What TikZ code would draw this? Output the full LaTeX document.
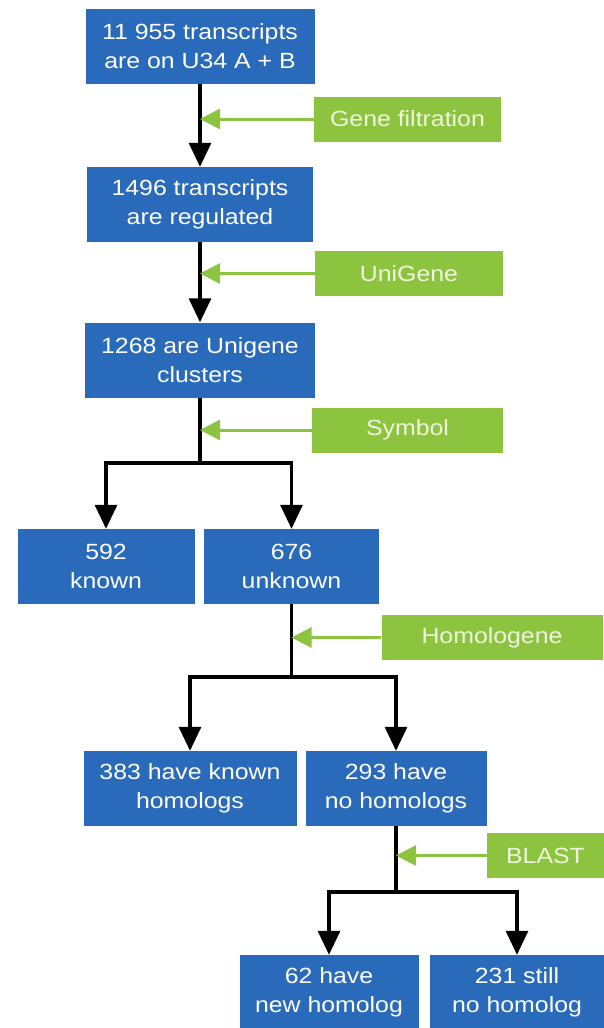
\documentclass[tikz,border=0pt]{standalone}
\usepackage{fontspec}
\setmainfont{Liberation Sans}[FakeStretch=1.13]
\usetikzlibrary{arrows.meta}
\definecolor{stageblue}{RGB}{42,106,186}
\definecolor{toolgreen}{RGB}{141,196,63}
\definecolor{tooltext}{RGB}{240,246,222}
\tikzset{
  stage/.style={fill=stageblue, text=white, minimum height=75pt, inner sep=0pt,
                align=center, font=\fontsize{22}{29}\selectfont},
  tool/.style={fill=toolgreen, text=tooltext, minimum height=45pt, inner sep=0pt,
               font=\fontsize{22}{29}\selectfont},
  flowarr/.style={-{Triangle[length=24pt,width=22pt]}, black, line width=3.2pt},
  toolarr/.style={-{Triangle[length=20pt,width=20pt]}, toolgreen, line width=3pt},
}

\begin{document}
\begin{tikzpicture}[x=1pt,y=-1pt]
      \useasboundingbox (0,0) rectangle (604,1028);
      \clip (0,0) rectangle (604,1028);
      \node[stage, minimum width=229pt] (tr) at (200,46) {11 955 transcripts\\are on U34 A + B};
      \node[stage, minimum width=226pt] (reg) at (200,204.5) {1496 transcripts\\are regulated};
      \node[stage, minimum width=230pt] (clu) at (200,360) {1268 are Unigene\\clusters};
      \node[stage, minimum width=177pt] (kn) at (106,566.5) {592\\known};
      \node[stage, minimum width=175pt] (unk) at (291.5,566.5) {676\\unknown};
      \node[stage, minimum width=213pt] (hom) at (190,788.5) {383 have known\\homologs};
      \node[stage, minimum width=181pt] (noh) at (396,788.5) {293 have\\no homologs};
      \node[stage, minimum width=179pt] (new) at (329,992.5) {62 have\\new homolog};
      \node[stage, minimum width=174pt] (still) at (517,992.5) {231 still\\no homolog};
      \node[tool, minimum width=187pt] (filt) at (407.5,119) {Gene filtration};
      \node[tool, minimum width=188pt] (ug) at (409,273.5) {UniGene};
      \node[tool, minimum width=191pt] (sym) at (407.5,430) {Symbol};
      \node[tool, minimum width=221pt] (hg) at (492,637.5) {Homologene};
      \node[tool, minimum width=117pt] (bl) at (545.5,855.5) {BLAST};
      \coordinate (s1) at (200,463);
      \coordinate (s2) at (291.5,677);
      \coordinate (s3) at (396,892);
      \draw[flowarr] (tr.south) -- (reg.north);
      \draw[flowarr] (reg.south) -- (clu.north);
      \draw[flowarr] (clu.south) -- (s1) -| (kn.north);
      \draw[flowarr] (s1) -| (unk.north);
      \draw[flowarr] (unk.south) -- (s2) -| (hom.north);
      \draw[flowarr] (s2) -| (noh.north);
      \draw[flowarr] (noh.south) -- (s3) -| (new.north);
      \draw[flowarr] (s3) -| (still.north);
      \draw[toolarr] (filt.west) -- (filt.west -| tr.south);
      \draw[toolarr] (ug.west) -- (ug.west -| reg.south);
      \draw[toolarr] (sym.west) -- (sym.west -| clu.south);
      \draw[toolarr] (hg.west) -- (hg.west -| unk.south);
      \draw[toolarr] (bl.west) -- (bl.west -| noh.south);
\end{tikzpicture}
\end{document}
